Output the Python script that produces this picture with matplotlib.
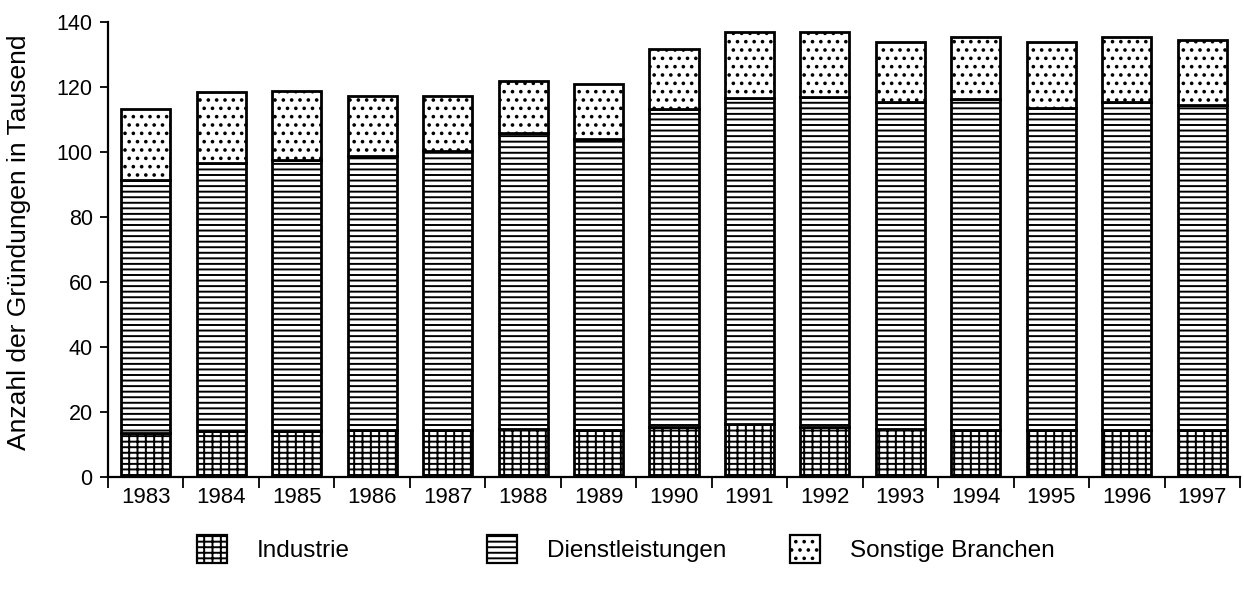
import matplotlib
matplotlib.use("Agg")
import matplotlib.pyplot as plt
import numpy as np
from matplotlib.patches import Patch

years = ["1983", "1984", "1985", "1986", "1987", "1988", "1989", "1990",
         "1991", "1992", "1993", "1994", "1995", "1996", "1997"]
industrie = [13.5, 14.2, 14.3, 14.5, 14.5, 14.8, 14.5, 15.5, 16.3, 15.5, 14.8, 14.5, 14.5, 14.5, 14.5]
# cumulative tops
top_dienst = [91.5, 96.6, 97.5, 98.8, 100.3, 105.8, 104.0, 113.2, 116.8, 117.0, 115.4, 116.3, 113.5, 115.3, 114.5]
top_total = [113.2, 118.5, 118.8, 117.2, 117.2, 121.8, 121.0, 131.7, 137.0, 137.0, 133.8, 135.4, 133.8, 135.4, 134.5]
dienstleistungen = [d - i for d, i in zip(top_dienst, industrie)]
sonstige = [t - d for t, d in zip(top_total, top_dienst)]
labels = ["Industrie", "Dienstleistungen", "Sonstige Branchen"]
yticks = [0, 20, 40, 60, 80, 100, 120, 140]

plt.rcParams['font.family'] = ['Liberation Sans', 'DejaVu Sans']
plt.rcParams['hatch.linewidth'] = 1.4
plt.rcParams['hatch.color'] = 'black'

fig = plt.figure(figsize=(12.44, 5.9), dpi=100)
ax = fig.add_axes([0.0868, 0.1915, 0.910, 0.771])

x = np.arange(len(years))
w = 0.65
hatches = ['++-', '---', '..']
bottom = np.zeros(len(years))
for vals, h in zip([industrie, dienstleistungen, sonstige], hatches):
    ax.bar(x, vals, w, bottom=bottom, facecolor='white', edgecolor='black',
           linewidth=2.0, hatch=h)
    bottom += np.array(vals)

ax.set_xlim(-0.5, len(years) - 0.5)
ax.set_ylim(0, 140)
ax.set_yticks(yticks)
ax.set_xticks(np.arange(len(years) + 1) - 0.5)
ax.set_xticklabels([])
ax.set_xticks(x, minor=True)
ax.set_xticklabels(years, minor=True)
ax.tick_params(axis='x', which='major', length=8, width=1.3, direction='out')
ax.tick_params(axis='x', which='minor', length=0, pad=7, labelsize=16)
ax.tick_params(axis='y', length=6, width=1.3, direction='out', pad=5, labelsize=15.5)
for s in ['top', 'right']:
    ax.spines[s].set_visible(False)
for s in ['left', 'bottom']:
    ax.spines[s].set_linewidth(1.6)
ax.set_ylabel("Anzahl der Gründungen in Tausend", fontsize=19)
ax.yaxis.set_label_coords(-0.068, 0.516)

patch_left_px = [197, 487, 790]
for lab, h, px in zip(labels, hatches, patch_left_px):
    hd = Patch(facecolor='white', edgecolor='black', hatch=h, linewidth=1.6)
    fig.legend([hd], [lab], loc='center left', bbox_to_anchor=(px / 1244, 1 - 549 / 590),
               frameon=False, fontsize=17.5, handlelength=1.25, handleheight=1.35,
               handletextpad=1.2, borderpad=0, borderaxespad=0)

fig.savefig("out.png", dpi=100)
